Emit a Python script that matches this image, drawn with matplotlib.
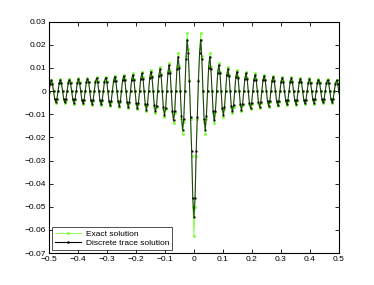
import matplotlib
matplotlib.use('Agg')
import matplotlib.pyplot as plt
import numpy as np

# grid: 256 cells on [-0.5, 0.5]; values below are for x = 0, h, 2h, ... 0.5
# (the curve is symmetric, the left half is the mirror image)
n_cells = 256

exact_half = [
    -0.0627, -0.0500, -0.0280, -0.0120, 0.0050, 0.0180, 0.0250, 0.0150,
    0.0000, -0.0132, -0.0185, -0.0119, 0.0000, 0.0110, 0.0163, 0.0102,
    0.0000, -0.0096, -0.0138, -0.0091, 0.0000, 0.0086, 0.0122, 0.0083,
    0.0000, -0.0079, -0.0111, -0.0076, 0.0000, 0.0074, 0.0103, 0.0071,
    0.0000, -0.0069, -0.0096, -0.0067, 0.0000, 0.0065, 0.0091, 0.0063,
    0.0000, -0.0062, -0.0087, -0.0060, 0.0000, 0.0059, 0.0083, 0.0058,
    0.0000, -0.0057, -0.0079, -0.0055, 0.0000, 0.0054, 0.0076, 0.0053,
    0.0000, -0.0052, -0.0074, -0.0052, 0.0000, 0.0051, 0.0071, 0.0050,
    0.0000, -0.0049, -0.0069, -0.0048, 0.0000, 0.0048, 0.0067, 0.0047,
    0.0000, -0.0046, -0.0065, -0.0046, 0.0000, 0.0045, 0.0063, 0.0045,
    0.0000, -0.0044, -0.0062, -0.0043, 0.0000, 0.0043, 0.0060, 0.0042,
    0.0000, -0.0042, -0.0059, -0.0042, 0.0000, 0.0041, 0.0058, 0.0041,
    0.0000, -0.0040, -0.0057, -0.0040, 0.0000, 0.0039, 0.0055, 0.0039,
    0.0000, -0.0039, -0.0054, -0.0038, 0.0000, 0.0038, 0.0053, 0.0038,
    0.0000, -0.0037, -0.0052, -0.0037, 0.0000, 0.0037, 0.0052, 0.0036,
    0.0000, -0.0036, -0.0051, -0.0036, 0.0000, 0.0035, 0.0050, 0.0035,
    -0.0008,
]

discrete_half = [
    -0.0545, -0.0460, -0.0258, -0.0110, 0.0045, 0.0163, 0.0222, 0.0138,
    0.0000, -0.0121, -0.0166, -0.0109, 0.0000, 0.0101, 0.0149, 0.0094,
    0.0000, -0.0088, -0.0127, -0.0084, 0.0000, 0.0079, 0.0112, 0.0076,
    0.0000, -0.0073, -0.0102, -0.0070, 0.0000, 0.0068, 0.0095, 0.0065,
    0.0000, -0.0063, -0.0088, -0.0062, 0.0000, 0.0060, 0.0084, 0.0058,
    0.0000, -0.0057, -0.0080, -0.0055, 0.0000, 0.0054, 0.0076, 0.0053,
    0.0000, -0.0052, -0.0073, -0.0051, 0.0000, 0.0050, 0.0070, 0.0049,
    0.0000, -0.0048, -0.0068, -0.0048, 0.0000, 0.0047, 0.0065, 0.0046,
    0.0000, -0.0045, -0.0063, -0.0044, 0.0000, 0.0044, 0.0062, 0.0043,
    0.0000, -0.0042, -0.0060, -0.0042, 0.0000, 0.0041, 0.0058, 0.0041,
    0.0000, -0.0040, -0.0057, -0.0040, 0.0000, 0.0040, 0.0055, 0.0039,
    0.0000, -0.0039, -0.0054, -0.0039, 0.0000, 0.0038, 0.0053, 0.0038,
    0.0000, -0.0037, -0.0052, -0.0037, 0.0000, 0.0036, 0.0051, 0.0036,
    0.0000, -0.0036, -0.0050, -0.0035, 0.0000, 0.0035, 0.0049, 0.0035,
    0.0000, -0.0034, -0.0048, -0.0034, 0.0000, 0.0034, 0.0048, 0.0033,
    0.0000, -0.0033, -0.0047, -0.0033, 0.0000, 0.0032, 0.0046, 0.0032,
    -0.0005,
]

x_ticks = [-0.5, -0.4, -0.3, -0.2, -0.1, 0, 0.1, 0.2, 0.3, 0.4, 0.5]
x_labels = ['\u22120.5', '\u22120.4', '\u22120.3', '\u22120.2', '\u22120.1', '0',
            '0.1', '0.2', '0.3', '0.4', '0.5']
y_ticks = [-0.07, -0.06, -0.05, -0.04, -0.03, -0.02, -0.01, 0, 0.01, 0.02, 0.03]
y_labels = ['\u22120.07', '\u22120.06', '\u22120.05', '\u22120.04', '\u22120.03',
            '\u22120.02', '\u22120.01', '0', '0.01', '0.02', '0.03']

x = np.linspace(-0.5, 0.5, n_cells + 1)
exact = np.array(exact_half[:0:-1] + exact_half)
discrete = np.array(discrete_half[:0:-1] + discrete_half)

plt.rcParams['font.family'] = ['Liberation Sans', 'DejaVu Sans']

fig = plt.figure(figsize=(3.74, 2.85), dpi=100)
ax = fig.add_axes([0.131, 0.112, 0.775, 0.812])

ax.plot(x, exact, color='#7cff3a', lw=0.6, marker='.', ms=2.2, label='Exact solution')
ax.plot(x, discrete, color='black', lw=0.8, marker='.', ms=1.6, alpha=0.75,
        label='Discrete trace solution')

ax.set_xlim(-0.5, 0.5)
ax.set_ylim(-0.07, 0.03)
ax.set_xticks(x_ticks)
ax.set_xticklabels(x_labels)
ax.set_yticks(y_ticks)
ax.set_yticklabels(y_labels)
ax.tick_params(direction='in', top=True, right=True, length=3, width=0.6,
               labelsize=6, pad=2)
for s in ax.spines.values():
    s.set_linewidth(0.8)

leg = ax.legend(loc='lower left', fontsize=6, frameon=True, fancybox=False,
                borderpad=0.3, handlelength=3.2, labelspacing=0.2, numpoints=1,
                borderaxespad=0.4, handletextpad=0.5)
leg.get_frame().set_edgecolor('black')
leg.get_frame().set_linewidth(0.6)
for h in leg.legend_handles:
    h.set_alpha(1)

fig.savefig('out.png', dpi=100)
